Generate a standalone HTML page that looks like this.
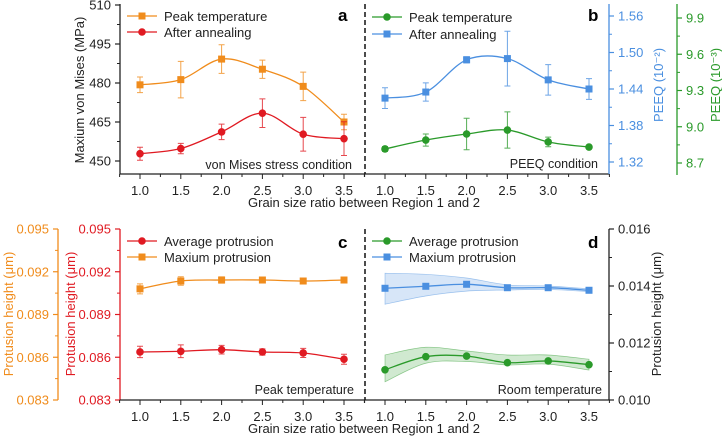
<!DOCTYPE html>
<html><head><meta charset="utf-8"><style>
body{margin:0;background:#fff}
svg{display:block;font-family:"Liberation Sans",sans-serif}
</style></head><body>
<svg id="c" width="722" height="439" viewBox="0 0 722 439" xmlns="http://www.w3.org/2000/svg"></svg>
<script>
const xCats=[1.0,1.5,2.0,2.5,3.0,3.5];
const xTicks=["1.0","1.5","2.0","2.5","3.0","3.5"];
// panel a
const aPeak=[479.3,481.3,489.2,485.3,478.7,465.0];
const aPeakErr=[3,7,5.5,3.5,5.5,3];
const aAnneal=[452.8,454.8,461.2,468.4,460.3,458.6];
const aAnnealErr=[2.5,2,3,5.5,6.5,6.5];
const aTicks=[450,465,480,495,510];
// panel b
const bAnneal=[1.425,1.435,1.488,1.490,1.455,1.440];
const bAnnealErr=[0.017,0.015,0.005,0.045,0.025,0.017];
const bPeak=[8.816,8.890,8.940,8.973,8.874,8.832];
const bPeakErr=[0.02,0.05,0.13,0.15,0.04,0.01];
const bTicks=["1.32","1.38","1.44","1.50","1.56"];
const gTicks=["8.7","9.0","9.3","9.6","9.9"];
// panel c
const cMax=[0.0908,0.09135,0.09142,0.09142,0.09135,0.09142];
const cMaxErr=[0.00035,0.0003,0.00022,0.00018,0.00012,0.0001];
const cAvg=[0.08637,0.08642,0.08653,0.08637,0.0863,0.08586];
const cAvgErr=[0.0004,0.00045,0.0003,0.00022,0.00032,0.00035];
const cTicks=["0.083","0.086","0.089","0.092","0.095"];
// panel d
const dMax=[0.01392,0.01399,0.01406,0.01394,0.01394,0.01385];
const dMaxHi=[0.01445,0.01441,0.01428,0.01404,0.01400,0.01390];
const dMaxLo=[0.01336,0.01365,0.01382,0.01386,0.01388,0.01380];
const dAvg=[0.01106,0.01152,0.01154,0.01131,0.01137,0.01124];
const dAvgHi=[0.01158,0.01185,0.01172,0.01158,0.01158,0.01143];
const dAvgLo=[0.01064,0.01129,0.01135,0.01123,0.01126,0.01105];
const dTicks=["0.010","0.012","0.014","0.016"];

const S=document.getElementById('c');const NS="http://www.w3.org/2000/svg";
function el(t,a,txt){const e=document.createElementNS(NS,t);for(const k in a)e.setAttribute(k,a[k]);if(txt!=null)e.textContent=txt;S.appendChild(e);return e;}
const xL=v=>140+(v-1)*81.6, xR=v=>385+(v-1)*81.6;
const yA=v=>161-(v-450)*39/15;
const yB=v=>162-(v-1.32)*146/0.24;
const yG=v=>163-(v-8.7)*145/1.2;
const yC=v=>400-(v-0.083)*171/0.012;
const yD=v=>400-(v-0.010)*171/0.006;
function spline(pts){let d="M"+pts[0][0]+","+pts[0][1];for(let i=0;i<pts.length-1;i++){const p0=pts[i-1]||pts[i],p1=pts[i],p2=pts[i+1],p3=pts[i+2]||p2;const c1=[p1[0]+(p2[0]-p0[0])/6,p1[1]+(p2[1]-p0[1])/6],c2=[p2[0]-(p3[0]-p1[0])/6,p2[1]-(p3[1]-p1[1])/6];d+=` C${c1[0]},${c1[1]} ${c2[0]},${c2[1]} ${p2[0]},${p2[1]}`;}return d;}
function splineSeg(pts){return spline(pts).replace(/^M[^C]*/,"");}
function series(name,xs,ys,xf,yf,col,mk,errs){
  const pts=xs.map((x,i)=>[xf(x),yf(ys[i])]);
  const p=el('path',{d:spline(pts),fill:'none',stroke:col,'stroke-width':1.3});
  
  xs.forEach((x,i)=>{
    if(errs){const y1=yf(ys[i]+errs[i]),y2=yf(ys[i]-errs[i]),cx=xf(x);
      const e=el('path',{d:`M${cx},${y1}V${y2}M${cx-3},${y1}h6M${cx-3},${y2}h6`,stroke:col,'stroke-width':1,fill:'none',opacity:0.8});
      }
    let m;
    if(mk==='s')m=el('rect',{x:xf(x)-3.5,y:yf(ys[i])-3.5,width:7,height:7,fill:col});
    else m=el('circle',{cx:xf(x),cy:yf(ys[i]),r:3.8,fill:col});
    
  });
}
function band(name,xs,hi,lo,xf,yf,col){
  const up=xs.map((x,i)=>[xf(x),yf(hi[i])]);const dn=xs.map((x,i)=>[xf(x),yf(lo[i])]).reverse();
  const d=spline(up)+" L"+dn[0][0]+","+dn[0][1]+splineSeg(dn)+"Z";
  const b=el('path',{d,fill:col,'fill-opacity':0.22,stroke:col,'stroke-opacity':0.5,'stroke-width':0.7});
  
}
function yAxis(name,x,ticks,yf,col,side,minor){
  const a=el('line',{x1:x,y1:ticks.y0,x2:x,y2:ticks.y1,stroke:col,'stroke-width':1.3});
  
  ticks.v.forEach((t,i)=>{const y=yf(+t);
    el('line',{x1:x,y1:y,x2:x+(side<0?-5:5),y2:y,stroke:col,'stroke-width':1.2});
    const l=el('text',{x:x+(side<0?-9:9),y:y+4.5,'font-size':13,fill:col,'text-anchor':side<0?'end':'start'},t);
    
    if(minor&&i<ticks.v.length-1){const y2=(y+yf(+ticks.v[i+1]))/2;el('line',{x1:x,y1:y2,x2:x+(side<0?-3:3),y2:y2,stroke:col,'stroke-width':1});}
  });
}
function xAxis(name,x0,x1,y,xf){
  const a=el('line',{x1:x0,y1:y,x2:x1,y2:y,stroke:'#222','stroke-width':1.3});
  
  xCats.forEach((v,i)=>{const x=xf(v);el('line',{x1:x,y1:y,x2:x,y2:y+5,stroke:'#222'});
    el('line',{x1:x+20.4,y1:y,x2:x+20.4,y2:y+3,stroke:'#222'});if(i==0)el('line',{x1:x-20.4,y1:y,x2:x-20.4,y2:y+3,stroke:'#222'});
    const l=el('text',{x:x,y:y+21,'font-size':13,fill:'#222','text-anchor':'middle'},xTicks[i]);
    });
}
function txt(name,x,y,s,opt){const t=el('text',Object.assign({x,y,'font-size':13,fill:'#222'},opt||{}),s);return t;}
function legend(name,x,y,col,mk,label){
  el('line',{x1:x,y1:y,x2:x+30,y2:y,stroke:col,'stroke-width':1.3});
  if(mk==='s')el('rect',{x:x+11.5,y:y-3.5,width:7,height:7,fill:col});else el('circle',{cx:x+15,cy:y,r:3.8,fill:col});
  txt(name,x+37,y+5,label);
}
const OR='#f08c1c',RD='#e01a22',GR='#2a9a2a',BL='#4a8fe0';
// TOP
yAxis('a-y-axis',120,{v:aTicks.map(String),y0:4,y1:174},yA,'#222',-1,true);
xAxis('ab-x-axis',120,365,174,xL);
xAxis('ab-x-axis-right',365,609,174,xR);
txt('a-y-axis-title',0,0,'Maxium von Mises (MPa)',{transform:'translate(84,90) rotate(-90)','text-anchor':'middle'});
series('a-peak-temperature',xCats,aPeak,xL,yA,OR,'s',aPeakErr);
series('a-after-annealing',xCats,aAnneal,xL,yA,RD,'c',aAnnealErr);
legend('a-legend-peak',127,16,OR,'s','Peak temperature');
legend('a-legend-anneal',127,32,RD,'c','After annealing');
txt('a-panel-label',338,21,'a',{'font-weight':'bold','font-size':17,fill:'#000'});
txt('a-condition-label',352,169,'von Mises stress condition',{'text-anchor':'end','font-size':12.5});
yAxis('b-y-axis-blue',609,{v:bTicks,y0:4,y1:174},yB,BL,1,true);
yAxis('b-y-axis-green',677,{v:gTicks,y0:4,y1:175},yG,GR,1,true);
txt('b-y-axis-title-blue',0,0,'PEEQ (10⁻²)',{transform:'translate(663,85) rotate(-90)','text-anchor':'middle',fill:BL});
txt('b-y-axis-title-green',0,0,'PEEQ (10⁻³)',{transform:'translate(720,85) rotate(-90)','text-anchor':'middle',fill:GR});
series('b-after-annealing',xCats,bAnneal,xR,yB,BL,'s',bAnnealErr);
series('b-peak-temperature',xCats,bPeak,xR,yG,GR,'c',bPeakErr);
legend('b-legend-peak',372,17,GR,'c','Peak temperature');
legend('b-legend-anneal',372,34,BL,'s','After annealing');
txt('b-panel-label',588,21,'b',{'font-weight':'bold','font-size':17,fill:'#000'});
txt('b-condition-label',598,168,'PEEQ condition',{'text-anchor':'end','font-size':12.5});
txt('top-x-axis-title',364,207,'Grain size ratio between Region 1 and 2',{'text-anchor':'middle'});
// BOTTOM
yAxis('c-y-axis-orange',58,{v:cTicks,y0:229,y1:400},yC,OR,-1,true);
yAxis('c-y-axis-red',120,{v:cTicks,y0:229,y1:400},yC,RD,-1,true);
txt('c-y-axis-title-orange',0,0,'Protusion height (μm)',{transform:'translate(13,314) rotate(-90)','text-anchor':'middle',fill:OR});
txt('c-y-axis-title-red',0,0,'Protusion height (μm)',{transform:'translate(75,314) rotate(-90)','text-anchor':'middle',fill:RD});
xAxis('cd-x-axis',120,365,400,xL);xAxis('cd-x-axis-right',365,609,400,xR);
series('c-maximum-protrusion',xCats,cMax,xL,yC,OR,'s',cMaxErr);
series('c-average-protrusion',xCats,cAvg,xL,yC,RD,'c',cAvgErr);
legend('c-legend-avg',127,241,RD,'c','Average protrusion');
legend('c-legend-max',127,257,OR,'s','Maxium protrusion');
txt('c-panel-label',338,248,'c',{'font-weight':'bold','font-size':17,fill:'#000'});
txt('c-condition-label',354,394,'Peak temperature',{'text-anchor':'end','font-size':12.5});
yAxis('d-y-axis',609,{v:dTicks,y0:229,y1:400},yD,'#222',1,true);
txt('d-y-axis-title',0,0,'Protusion height (μm)',{transform:'translate(661,314) rotate(-90)','text-anchor':'middle'});
band('d-maximum',xCats,dMaxHi,dMaxLo,xR,yD,BL);
band('d-average',xCats,dAvgHi,dAvgLo,xR,yD,GR);
series('d-maximum-protrusion',xCats,dMax,xR,yD,BL,'s',null);
series('d-average-protrusion',xCats,dAvg,xR,yD,GR,'c',null);
legend('d-legend-avg',372,241,GR,'c','Average protrusion');
legend('d-legend-max',372,257,BL,'s','Maxium protrusion');
txt('d-panel-label',588,248,'d',{'font-weight':'bold','font-size':17,fill:'#000'});
txt('d-condition-label',602,394,'Room temperature',{'text-anchor':'end','font-size':12.5});
txt('bottom-x-axis-title',364,433,'Grain size ratio between Region 1 and 2',{'text-anchor':'middle'});
// dashed dividers
const d1=el('line',{x1:365,y1:4,x2:365,y2:174,stroke:'#111','stroke-width':1.5,'stroke-dasharray':'5,3'});

const d2=el('line',{x1:365,y1:229,x2:365,y2:400,stroke:'#111','stroke-width':1.5,'stroke-dasharray':'5,3'});

</script>
</body></html>
